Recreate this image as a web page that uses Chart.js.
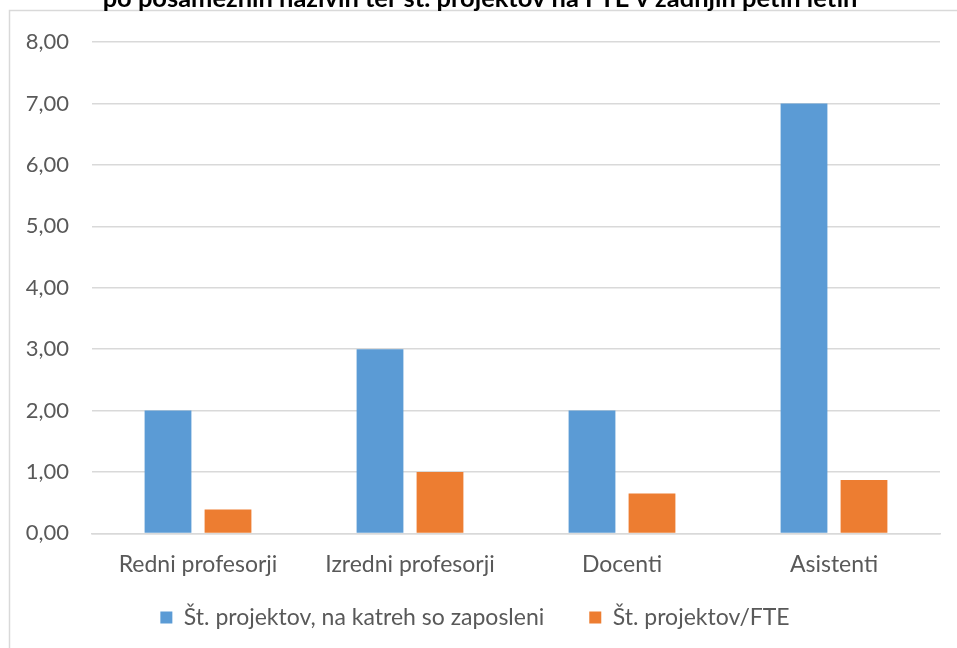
<!DOCTYPE html>
<html>
<head>
<meta charset="utf-8">
<script src="https://cdn.jsdelivr.net/npm/chart.js@4"></script>
<style>
  html, body { margin: 0; padding: 0; background: #fff; }
  #wrap { width: 957px; height: 648px; position: relative; }
</style>
</head>
<body>
<div id="wrap"><canvas id="chProjekti"></canvas></div>
<script>
var kategorije = ["Redni profesorji", "Izredni profesorji", "Docenti", "Asistenti"];
var projekti = [2, 3, 2, 7];
var projektiFTE = [0.39, 1.0, 0.65, 0.87];
var yTicks = [0, 1, 2, 3, 4, 5, 6, 7, 8];
var naslov = "po posameznih nazivih ter št. projektov na FTE v zadnjih petih letih";
var serije = ["Št. projektov, na katreh so zaposleni", "Št. projektov/FTE"];

var CORES = {
  blue: "#5b9bd5",
  orange: "#ed7d31",
  grid: "#d9d9d9",
  tick: "#595959",
  title: "#000000",
};
var FONT = "Lato, 'Liberation Sans', sans-serif";

// okvir grafikona in odrezan naslov (zgoraj)
var okvir = {
  id: "okvir",
  beforeDraw: function (chart) {
    var ctx = chart.ctx;
    ctx.save();
    ctx.fillStyle = "#fff";
    ctx.fillRect(0, 0, chart.width, chart.height);
    ctx.strokeStyle = CORES.grid;
    ctx.lineWidth = 1.5;
    ctx.strokeRect(9.5, 10.5, chart.width + 20, chart.height + 20);
    ctx.restore();
  },
  afterDraw: function (chart) {
    var ctx = chart.ctx;
    ctx.save();
    var size = 20;
    ctx.font = "bold " + size + "px " + FONT;
    var w = ctx.measureText(naslov).width;
    size = size * 755 / w;
    ctx.font = "bold " + size + "px " + FONT;
    ctx.fillStyle = CORES.title;
    ctx.textAlign = "center";
    ctx.textBaseline = "alphabetic";
    ctx.fillText(naslov, 480, 7);
    ctx.restore();
  },
};

// legenda: širok razmik med elementi, a manj prostora nad njo
var ZAMIK = 34;
var legenda = {
  id: "legendaZamik",
  beforeLayout: function (chart) {
    var lg = chart.legend;
    if (!lg || lg._zamik) return;
    var fit = lg.fit;
    lg.fit = function () { fit.apply(this, arguments); this.height -= ZAMIK; };
    lg._zamik = true;
  },
  afterLayout: function (chart) {
    if (chart.legend) chart.legend.top -= ZAMIK;
  },
};

Chart.defaults.font.family = FONT;
Chart.defaults.color = CORES.tick;

new Chart(document.getElementById("chProjekti"), {
  type: "bar",
  data: {
    labels: kategorije,
    datasets: [
      { label: serije[0], data: projekti, backgroundColor: CORES.blue, barPercentage: 0.78, categoryPercentage: 0.566 },
      { label: serije[1], data: projektiFTE, backgroundColor: CORES.orange, barPercentage: 0.78, categoryPercentage: 0.566 },
    ],
  },
  options: {
    responsive: true,
    maintainAspectRatio: false,
    animation: false,
    layout: { padding: { left: 10, right: 17, top: 42, bottom: 9 } },
    plugins: {
      title: { display: false },
      tooltip: { enabled: false },
      legend: {
        position: "bottom",
        labels: { boxWidth: 12, boxHeight: 12, padding: 45, font: { size: 23 }, color: CORES.tick },
      },
    },
    scales: {
      x: {
        grid: { display: false, drawTicks: false },
        border: { display: true, color: CORES.grid, width: 1.5 },
        ticks: { font: { size: 23 }, color: CORES.tick, padding: 17 },
      },
      y: {
        min: 0,
        max: 8,
        afterFit: function (s) { s.width = 82; },
        afterBuildTicks: function (s) { s.ticks = yTicks.map(function (v) { return { value: v }; }); },
        grid: { color: CORES.grid, lineWidth: 1.5, drawTicks: false },
        border: { display: false },
        ticks: {
          font: { size: 22 },
          color: CORES.tick,
          padding: 23,
          callback: function (v) { return v.toFixed(2).replace(".", ","); },
        },
      },
    },
  },
  plugins: [okvir, legenda],
});
</script>
</body>
</html>
